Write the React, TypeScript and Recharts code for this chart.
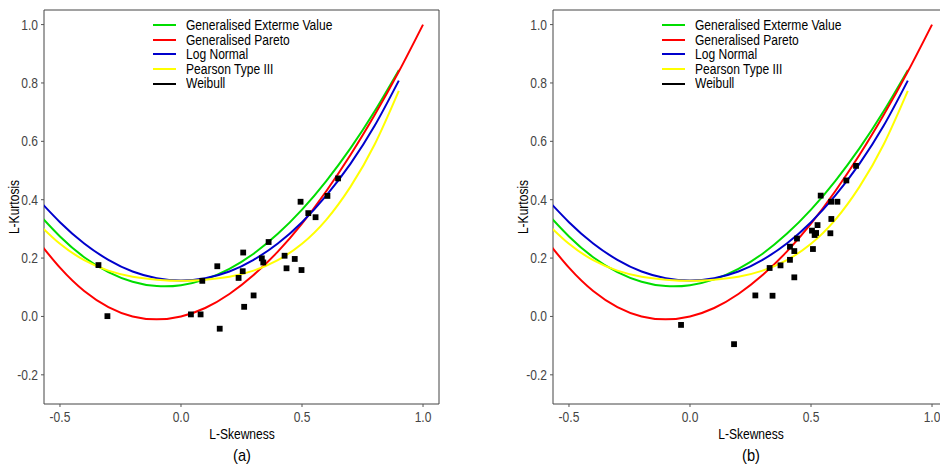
import React from 'react';
import {
  ComposedChart,
  Line,
  Scatter,
  XAxis,
  YAxis,
  ReferenceArea,
} from 'recharts';

// L-skewness grid for the theoretical curves
const TAU3 = [-0.6, -0.5, -0.4, -0.3, -0.2, -0.1, 0, 0.1, 0.2, 0.3, 0.4, 0.5, 0.6, 0.7, 0.8, 0.9, 1.0];

// L-kurtosis (GEV, LN3, PE3 stop at 0.9)
const GEV = [0.362, 0.274, 0.203, 0.152, 0.119, 0.104, 0.107, 0.127, 0.163, 0.215, 0.283, 0.366, 0.464, 0.576, 0.703, 0.844];
const GPA = [0.268, 0.167, 0.087, 0.032, 0.0, -0.010, 0.0, 0.029, 0.077, 0.142, 0.222, 0.318, 0.429, 0.553, 0.690, 0.839, 1.0];
const LN3 = [0.410, 0.323, 0.250, 0.194, 0.154, 0.131, 0.123, 0.131, 0.154, 0.194, 0.250, 0.323, 0.414, 0.523, 0.653, 0.808];
const PE3 = [0.326, 0.249, 0.193, 0.157, 0.136, 0.126, 0.122, 0.126, 0.136, 0.157, 0.193, 0.249, 0.331, 0.444, 0.589, 0.773];

// sample L-moment ratios, panel (a)
const A_SKEW = [-0.341, -0.304, 0.041, 0.081, 0.088, 0.150, 0.160, 0.257, 0.255, 0.238, 0.261, 0.300, 0.334, 0.340, 0.362, 0.428, 0.436, 0.470, 0.498, 0.494, 0.526, 0.556, 0.605, 0.649];
const A_KURT = [0.176, 0.001, 0.007, 0.007, 0.122, 0.172, -0.042, 0.219, 0.155, 0.132, 0.033, 0.072, 0.199, 0.185, 0.255, 0.208, 0.165, 0.197, 0.159, 0.393, 0.354, 0.340, 0.413, 0.473];

// panel (b)
const B_SKEW = [-0.037, 0.182, 0.270, 0.341, 0.329, 0.374, 0.413, 0.431, 0.413, 0.431, 0.442, 0.508, 0.504, 0.515, 0.521, 0.527, 0.580, 0.584, 0.540, 0.583, 0.609, 0.646, 0.686];
const B_KURT = [-0.029, -0.095, 0.072, 0.071, 0.166, 0.175, 0.194, 0.134, 0.239, 0.224, 0.267, 0.231, 0.294, 0.279, 0.286, 0.313, 0.285, 0.334, 0.414, 0.393, 0.393, 0.466, 0.516];

const X_TICKS = [-0.5, 0, 0.5, 1.0];
const Y_TICKS = [-0.2, 0, 0.2, 0.4, 0.6, 0.8, 1.0];
const X_DOMAIN: [number, number] = [-0.566, 1.066];
const Y_DOMAIN: [number, number] = [-0.3, 1.05];

const SERIES = [
  { name: 'Generalised Exterme Value', color: '#00dd00', values: GEV },
  { name: 'Generalised Pareto', color: '#ff0000', values: GPA },
  { name: 'Log Normal', color: '#0000cc', values: LN3 },
  { name: 'Pearson Type III', color: '#ffff00', values: PE3 },
  { name: 'Weibull', color: '#000000', values: [] as number[] },
];

const FONT = "'Liberation Sans', Arial, sans-serif";
// the reference text is a bit narrower than Arial, squeeze it horizontally
const SQUEEZE = 0.86;

const toCurve = (vals: number[]) => vals.map((v, i) => ({ x: TAU3[i], y: v }));
const toPoints = (xs: number[], ys: number[]) => xs.map((x, i) => ({ x, y: ys[i] }));

const Square = (p: any) => (
  <rect x={p.cx - 2.9} y={p.cy - 2.9} width={5.8} height={5.8} fill="#000" />
);

const XTick = (p: any) => (
  <text
    transform={`translate(${p.x},${p.y}) scale(${SQUEEZE},1)`}
    textAnchor="middle"
    dy="0.71em"
    fontSize={14}
    fontFamily={FONT}
    fill="#444"
  >
    {Number(p.payload.value).toFixed(1)}
  </text>
);

const YTick = (p: any) => (
  <text
    transform={`translate(${p.x},${p.y}) scale(${SQUEEZE},1)`}
    textAnchor="end"
    dy="0.355em"
    fontSize={14}
    fontFamily={FONT}
    fill="#444"
  >
    {Number(p.payload.value).toFixed(1)}
  </text>
);

const squeezed = (origin: string): React.CSSProperties => ({
  fontFamily: FONT,
  fontSize: 14,
  color: '#000',
  whiteSpace: 'nowrap',
  transform: `scaleX(${SQUEEZE})`,
  transformOrigin: origin,
});

const LegendBox = ({ left }: { left: number }) => (
  <div style={{ position: 'absolute', left, top: 18 }}>
    {SERIES.map((s) => (
      <div key={s.name} style={{ display: 'flex', alignItems: 'center', height: 14.6 }}>
        <div style={{ width: 23, height: 2, background: s.color, marginRight: 10, flex: 'none' }} />
        <span style={{ ...squeezed('left center'), lineHeight: '14.6px' }}>{s.name}</span>
      </div>
    ))}
  </div>
);

interface PanelProps {
  left: number;
  padLeft: number;
  width: number;
  xs: number[];
  ys: number[];
  tag: string;
}

function Panel({ left, padLeft, width, xs, ys, tag }: PanelProps) {
  const plotLeft = padLeft + 44;
  const plotMid = plotLeft + 395 / 2;
  return (
    <div style={{ position: 'absolute', left, top: 0, width, height: 464 }}>
      <ComposedChart
        width={width}
        height={464}
        margin={{ top: 10, right: width - plotLeft - 395, bottom: 40, left: padLeft }}
      >
        <XAxis
          type="number"
          dataKey="x"
          domain={X_DOMAIN}
          ticks={X_TICKS}
          allowDataOverflow
          axisLine={false}
          tickLine={{ stroke: '#555' }}
          tickSize={3}
          tickMargin={5}
          height={20}
          tick={<XTick />}
        />
        <YAxis
          type="number"
          dataKey="y"
          domain={Y_DOMAIN}
          ticks={Y_TICKS}
          allowDataOverflow
          axisLine={false}
          tickLine={{ stroke: '#555' }}
          tickSize={3}
          tickMargin={3}
          width={44}
          tick={<YTick />}
        />
        <ReferenceArea
          x1={X_DOMAIN[0]}
          x2={X_DOMAIN[1]}
          y1={Y_DOMAIN[0]}
          y2={Y_DOMAIN[1]}
          fill="none"
          stroke="#444"
          strokeWidth={1}
        />
        {SERIES.filter((s) => s.values.length > 0).map((s) => (
          <Line
            key={s.name}
            data={toCurve(s.values)}
            dataKey="y"
            type="natural"
            stroke={s.color}
            strokeWidth={2}
            dot={false}
            activeDot={false}
            isAnimationActive={false}
          />
        ))}
        <Scatter data={toPoints(xs, ys)} dataKey="y" shape={Square} isAnimationActive={false} />
      </ComposedChart>
      <LegendBox left={plotLeft + 109} />
      <div
        style={{
          position: 'absolute',
          left: padLeft + 14 - 60,
          top: 207 - 8,
          width: 120,
          height: 16,
          lineHeight: '16px',
          textAlign: 'center',
          transform: `rotate(-90deg) scaleX(${SQUEEZE})`,
          fontFamily: FONT,
          fontSize: 14,
          color: '#000',
        }}
      >
        L-Kurtosis
      </div>
      <div
        style={{
          position: 'absolute',
          left: plotMid - 80,
          top: 435 - 9,
          width: 160,
          lineHeight: '16px',
          textAlign: 'center',
          fontFamily: FONT,
          fontSize: 14,
          color: '#000',
          transform: `scaleX(${SQUEEZE})`,
        }}
      >
        L-Skewness
      </div>
      <div
        style={{
          position: 'absolute',
          left: plotMid - 80,
          top: 456 - 10,
          width: 160,
          lineHeight: '20px',
          textAlign: 'center',
          fontFamily: FONT,
          fontSize: 17,
          color: '#000',
          transform: `scaleX(${SQUEEZE})`,
        }}
      >
        {tag}
      </div>
    </div>
  );
}

export default function App() {
  return (
    <div
      style={{
        position: 'fixed',
        left: 0,
        top: 0,
        width: 940,
        height: 464,
        overflow: 'hidden',
        background: '#fff',
      }}
    >
      <Panel left={0} padLeft={0} width={470} xs={A_SKEW} ys={A_KURT} tag="(a)" />
      <Panel left={470} padLeft={39} width={478} xs={B_SKEW} ys={B_KURT} tag="(b)" />
    </div>
  );
}
